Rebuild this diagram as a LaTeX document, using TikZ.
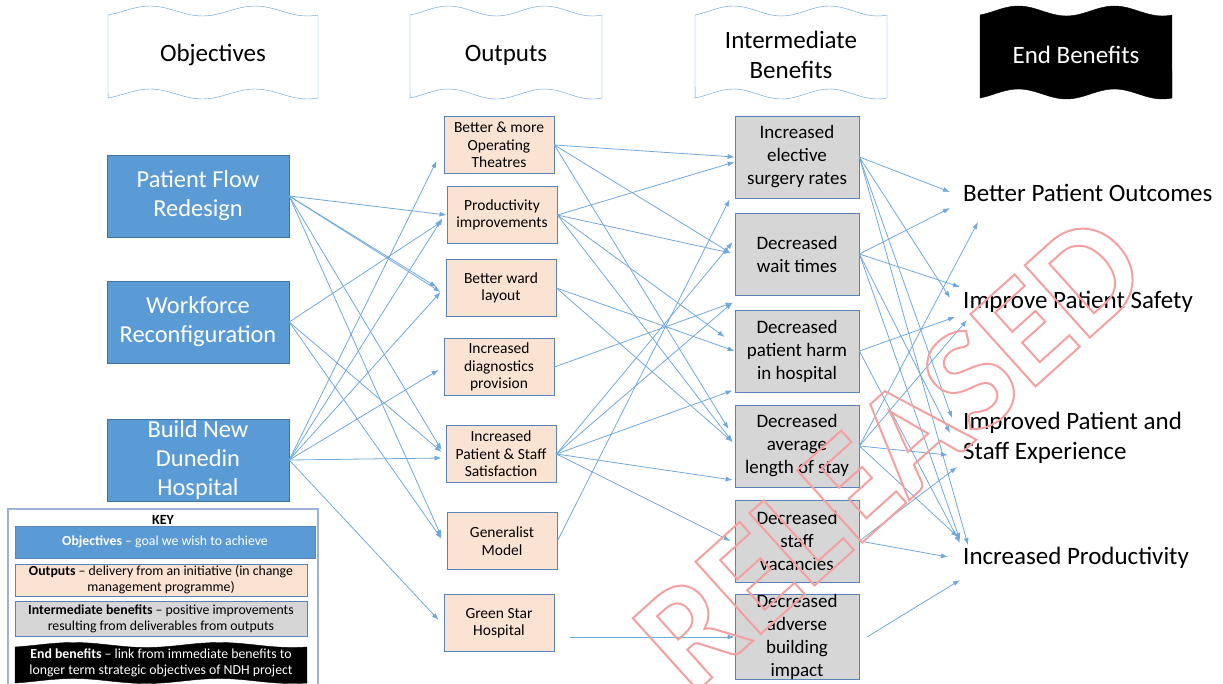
\documentclass[tikz,border=0pt]{standalone}
\usepackage{fontspec}
\setmainfont{Carlito}
\usetikzlibrary{arrows.meta}
\definecolor{objblue}{HTML}{5B9BD5}
\definecolor{objline}{HTML}{41719C}
\definecolor{outfill}{HTML}{FBE3D3}
\definecolor{boxline}{HTML}{5A82B8}
\definecolor{intfill}{HTML}{D6D6D6}
\definecolor{linkblue}{HTML}{6FA8DC}
\definecolor{wmred}{HTML}{F5A0A0}
\tikzset{>={Latex[length=7pt,width=5pt]}}
\tikzset{
  objbox/.style = {draw=objline, fill=objblue, text=white, minimum width=182pt,
    minimum height=82pt, align=center, inner sep=0pt, font=\fontsize{24.4}{29}\selectfont},
  outbox/.style = {draw=boxline, thick, fill=outfill, minimum width=110pt,
    minimum height=57pt, align=center, inner sep=0pt, font=\fontsize{15.5}{17.5}\selectfont},
  intbox/.style = {draw=boxline, thick, fill=intfill, minimum width=124pt,
    minimum height=82pt, align=center, inner sep=0pt, font=\fontsize{19}{23}\selectfont},
  endtext/.style = {anchor=west, inner sep=0pt, align=left, font=\fontsize{25}{30}\selectfont},
  head/.style = {align=center, font=\fontsize{25}{30}\selectfont},
  keybar/.style = {draw=boxline, align=center, inner sep=0pt, font=\fontsize{13.8}{16}\selectfont},
  link/.style = {->, draw=linkblue, line width=0.8pt}
}
% wavy banner: left, top, width, height, amplitude, style
\newcommand{\banner}[6]{%
  \draw[#6] plot[smooth,domain=0:1,samples=31] ({#1+#3*\x},{#2-#5*sin(720*\x-54)})
    -- plot[smooth,domain=1:0,samples=31] ({#1+#3*\x},{#2+#4-#5*sin(720*\x-54)}) -- cycle;}

\begin{document}
\begin{tikzpicture}[x=1pt,y=-1pt]
  \useasboundingbox (0,0) rectangle (1223,683);

  % column headers
  \banner{108}{11}{210}{83}{5}{draw=objblue,fill=white}
  \banner{410}{11}{192}{83}{5}{draw=objblue,fill=white}
  \banner{695}{11}{192}{83}{5}{draw=objblue,fill=white}
  \banner{980}{11}{192}{83}{5}{draw=black,fill=black}
  \node[head] (hobj) at (213,55) {Objectives};
  \node[head] (hout) at (506,55) {Outputs};
  \node[head] (hint) at (791,55) {Intermediate\\Benefits};
  \node[head,text=white] (hend) at (1076,55) {End Benefits};

  % objectives
  \node[objbox] (pfr) at (198,196) {Patient Flow\\Redesign};
  \node[objbox] (wr) at (198,322) {Workforce\\Reconfiguration};
  \node[objbox] (bnd) at (198,460) {Build New\\Dunedin\\Hospital};

  % outputs
  \node[outbox] (o1) at (499,145) {Better \& more\\Operating\\Theatres};
  \node[outbox] (o2) at (502,215) {Productivity\\improvements};
  \node[outbox] (o3) at (501,288) {Better ward\\layout};
  \node[outbox] (o4) at (499,367) {Increased\\diagnostics\\provision};
  \node[outbox] (o5) at (501,454) {Increased\\Patient \& Staff\\Satisfaction};
  \node[outbox] (o6) at (502,541) {Generalist\\Model};
  \node[outbox] (o7) at (499,623) {Green Star\\Hospital};

  % intermediate benefits
  \node[intbox] (i1) at (797,157) {Increased\\elective\\surgery rates};
  \node[intbox] (i2) at (797,254) {Decreased\\wait times};
  \node[intbox] (i3) at (797,351) {Decreased\\patient harm\\in hospital};
  \node[intbox] (i4) at (797,446) {Decreased\\average\\length of stay};
  \node[intbox] (i5) at (797,541) {Decreased\\staff\\vacancies};
  \node[intbox] (i6) at (797,637) {Decreased\\adverse\\building\\impact};

  % end benefits
  \node[endtext] (bpo) at (963,193) {Better Patient Outcomes};
  \node[endtext] (ips) at (963,302) {Improve Patient Safety};
  \node[endtext] (ipse) at (963,438) {Improved Patient and\\Staff Experience};
  \node[endtext] (ip) at (963,558) {Increased Productivity};

  % objectives -> outputs
  \draw[link] (pfr.east) -- (o2.west);
  \draw[link] (pfr.east) -- ([shift={(-9,-1)}]o3.west);
  \draw[link] (pfr.east) -- ([shift={(-5,4)}]o3.west);
  \draw[link] (pfr.east) -- ([shift={(-4,-4)}]o5.west);
  \draw[link] (pfr.east) -- ([shift={(-5,-4)}]o6.west);
  \draw[link] (wr.east) -- ([shift={(-4,6)}]o2.west);
  \draw[link] (wr.east) -- ([shift={(-4,-2)}]o5.west);
  \draw[link] (wr.east) -- ([shift={(-5,-2)}]o6.west);
  \draw[link] (bnd.east) -- ([shift={(-7,-13)}]o1.south west);
  \draw[link] (bnd.east) -- ([shift={(-4,3)}]o2.west);
  \draw[link] (bnd.east) -- ([shift={(-5,4)}]o3.west);
  \draw[link] (bnd.east) -- ([shift={(-5,3)}]o4.west);
  \draw[link] (bnd.east) -- ([shift={(-4,4)}]o5.west);
  \draw[link] (bnd.east) -- ([shift={(-5,-3)}]o7.west);

  % outputs -> intermediate benefits
  \draw[link] (o1.east) -- (i1.west);
  \draw[link] (o1.east) -- ([shift={(-4,-1)}]i2.west);
  \draw[link] (o1.east) -- ([shift={(-6,-17)}]i4.west);
  \draw[link] (o2.east) -- ([shift={(0,5)}]i1.west);
  \draw[link] (o2.east) -- ([shift={(-4,-1)}]i2.west);
  \draw[link] (o2.east) -- ([shift={(-10,-14)}]i3.west);
  \draw[link] (o2.east) -- ([shift={(-2,-4)}]i4.west);
  \draw[link] (o3.east) -- (i3.west);
  \draw[link] (o3.east) -- ([shift={(-2,-4)}]i4.west);
  \draw[link] (o4.east) -- ([shift={(-2,-7)}]i3.north west);
  \draw[link] (o5.east) -- ([shift={(-2,-12)}]i2.west);
  \draw[link] (o5.east) -- ([shift={(-2,-7)}]i3.north west);
  \draw[link] (o5.east) -- ([shift={(-2,-2)}]i3.south west);
  \draw[link] (o5.east) -- ([shift={(-2,34)}]i4.west);
  \draw[link] (o5.east) -- ([shift={(-4,0)}]i5.west);
  \draw[link] (o6.east) -- ([shift={(-5,1)}]i1.south west);
  \coordinate (o7out) at (570,637);
  \draw[link] (o7out) -- (i6.west);

  % intermediate -> end benefits
  \draw[link] (i1.east) -- ([shift={(-13,-1)}]bpo.west);
  \draw[link] (i1.east) -- ([shift={(-13,-4)}]ips.west);
  \draw[link] (i1.east) -- ([shift={(-11,-20)}]ipse.west);
  \draw[link] (i1.east) -- ([shift={(5,-13)}]ip.west);
  \draw[link] (i2.east) -- ([shift={(-13,15)}]bpo.west);
  \draw[link] (i2.east) -- ([shift={(-3,-15)}]ips.west);
  \draw[link] (i2.east) -- ([shift={(-13,-5)}]ipse.west);
  \draw[link] (i2.east) -- ([shift={(-3,-18)}]ip.west);
  \draw[link] (i3.east) -- ([shift={(-8,15)}]ips.west);
  \draw[link] (i3.east) -- ([shift={(-3,-15)}]ip.west);
  \draw[link] (i4.east) -- ([shift={(15,29)}]bpo.west);
  \draw[link] (i4.east) -- ([shift={(4,18)}]ips.west);
  \draw[link] (i4.east) -- ([shift={(-15,17)}]ipse.west);
  \draw[link] (i4.east) -- ([shift={(-5,-21)}]ip.west);
  \draw[link] (i5.east) -- ([shift={(-6,29)}]ipse.west);
  \draw[link] (i5.east) -- ([shift={(-15,-1)}]ip.west);
  \coordinate (i6out) at (867,637);
  \draw[link] (i6out) -- ([shift={(-3,22)}]ip.west);

  % key
  \draw[draw=boxline!60, line width=1.5pt, fill=white] (8,509) rectangle (318,700);
  \node[font=\fontsize{14}{16}\selectfont\bfseries] (key) at (163,520) {KEY};
  \node[keybar, fill=objblue, text=white, minimum width=300pt, minimum height=32pt] (kobj) at (165,542)
    {\textbf{Objectives} -- goal we wish to achieve};
  \node[keybar, fill=outfill, minimum width=292pt, minimum height=32pt] (kout) at (161,580)
    {\textbf{Outputs} -- delivery from an initiative (in change\\management programme)};
  \node[keybar, fill=intfill, minimum width=292pt, minimum height=35pt] (kint) at (161,619)
    {\textbf{Intermediate benefits} -- positive improvements\\resulting from deliverables from outputs};
  \banner{15}{645}{292}{36}{2.5}{draw=black,fill=black}
  \node[align=center, text=white, font=\fontsize{13.8}{16}\selectfont] (kend) at (161,663)
    {\textbf{End benefits} -- link from immediate benefits to\\longer term strategic objectives of NDH project};

  % watermark
  \node[rotate=42, text=wmred, inner sep=0pt] (stamp) at (890,452)
    {\fontsize{150}{150}\selectfont\bfseries\special{pdf:literal direct 1 Tr 2 w}RELEASED\special{pdf:literal direct 0 Tr}};
\end{tikzpicture}
\end{document}
